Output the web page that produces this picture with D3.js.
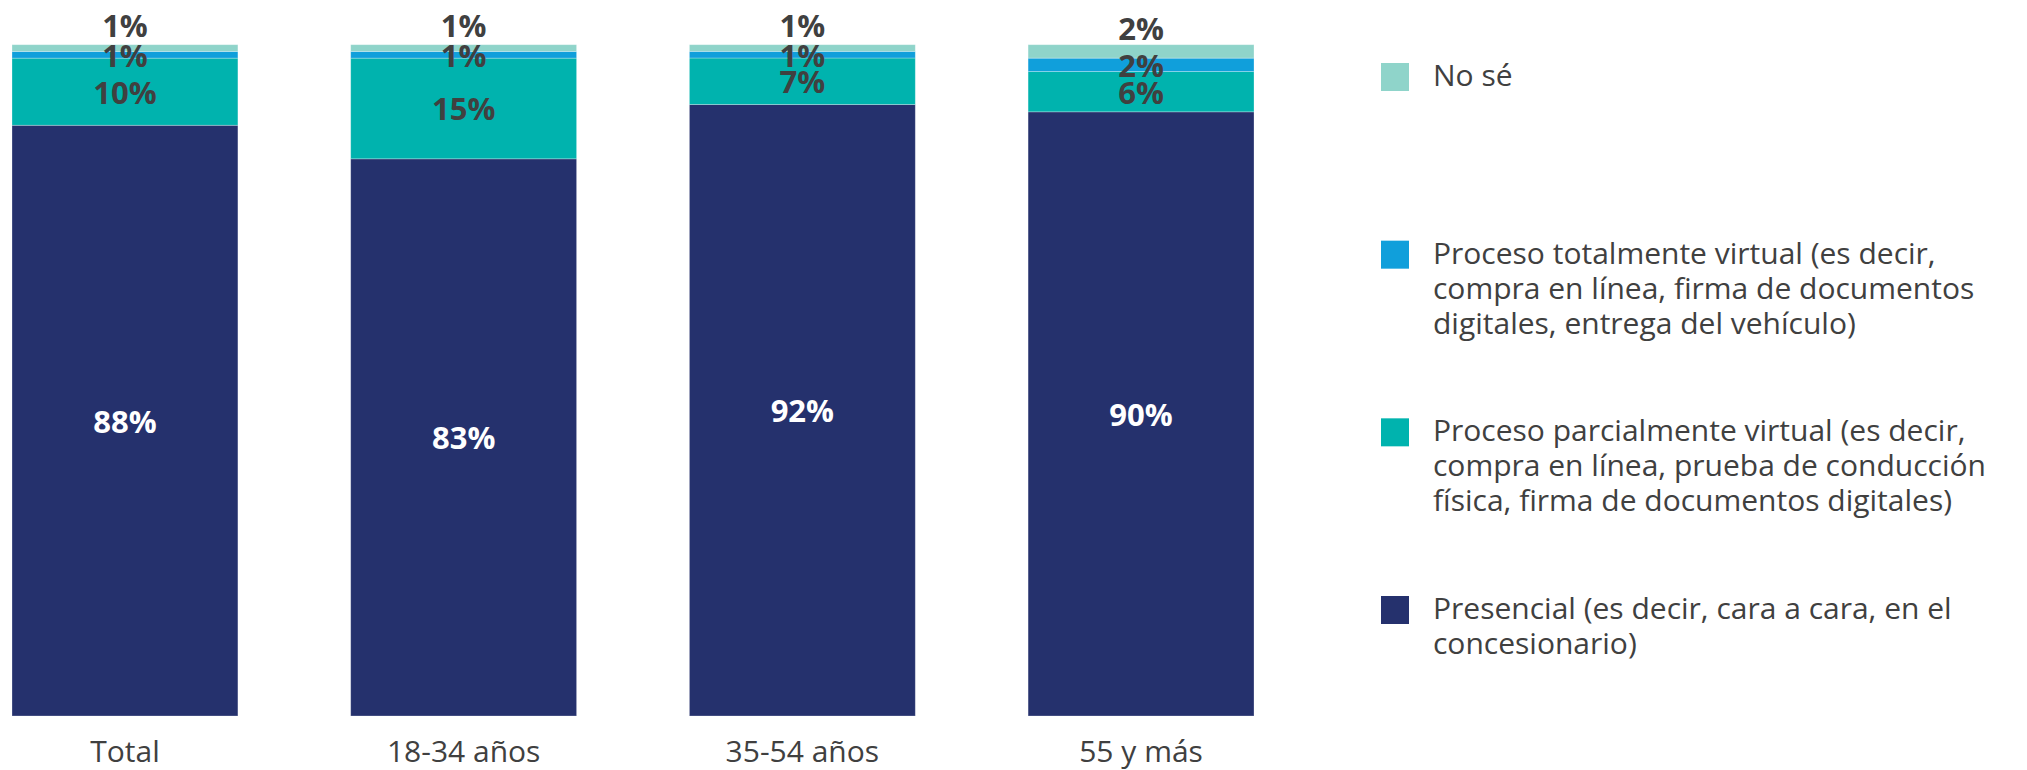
<!DOCTYPE html>
<html>
<head>
    <meta charset="utf-8">
    <script src="https://d3js.org/d3.v7.min.js"></script>
    <style>
        body { margin: 0; background: #fff; }
        text { font-family: "Open Sans", sans-serif; }
    </style>
</head>
<body>
    <div id="chart"></div>
    <script>
        const width = 2027
        const height = 770

        // categories (x axis)
        const groups = ["Total", "18-34 años", "35-54 años", "55 y más"]

        // series, stacked bottom to top
        const keys = ["presencial", "parcial", "total", "nose"]
        const presencial = [88, 83, 92, 90]
        const parcial = [10, 15, 7, 6]
        const totalVirtual = [1, 1, 1, 2]
        const noSe = [1, 1, 1, 2]

        // legend texts, top to bottom, one entry per line
        const legendKeys = ["nose", "total", "parcial", "presencial"]
        const legendLines = [
            ["No sé"],
            ["Proceso totalmente virtual (es decir,", "compra en línea, firma de documentos", "digitales, entrega del vehículo)"],
            ["Proceso parcialmente virtual (es decir,", "compra en línea, prueba de conducción", "física, firma de documentos digitales)"],
            ["Presencial (es decir, cara a cara, en el", "concesionario)"]
        ]

        const colors = {
            presencial: "#25316d",
            parcial: "#00b3ae",
            total: "#109fdb",
            nose: "#8fd4ca"
        }

        const rows = groups.map((g, i) => ({
            group: g,
            presencial: presencial[i],
            parcial: parcial[i],
            total: totalVirtual[i],
            nose: noSe[i]
        }))

        // each bar is drawn to 100% of its own sum
        const series = d3.stack().keys(keys).offset(d3.stackOffsetExpand)(rows)

        const xScale = d3.scaleBand()
            .domain(groups)
            .range([12, 1254])
            .paddingInner(0.333)
            .paddingOuter(0)

        const yScale = d3.scaleLinear()
            .domain([0, 1])
            .range([716, 44.7])

        const svg = d3.select("#chart").append("svg")
            .attr("width", width)
            .attr("height", height)

        const layers = svg.selectAll("g.layer")
            .data(series)
            .enter()
            .append("g")
            .attr("class", "layer")
            .attr("fill", d => colors[d.key])

        layers.selectAll("rect")
            .data(d => d)
            .enter()
            .append("rect")
            .attr("x", d => xScale(d.data.group))
            .attr("y", d => yScale(d[1]))
            .attr("width", xScale.bandwidth())
            .attr("height", d => yScale(d[0]) - yScale(d[1]))
            .attr("stroke", "#ffffff")
            .attr("stroke-opacity", 0.35)
            .attr("stroke-width", 0.8)

        // value labels, drawn on top of all bars
        const labelData = series.flatMap(s => s.map(p => ({ key: s.key, p: p })))

        svg.append("g")
            .attr("class", "labels")
            .selectAll("text")
            .data(labelData)
            .enter()
            .append("text")
            .attr("x", d => xScale(d.p.data.group) + xScale.bandwidth() / 2)
            .attr("y", d => {
                const mid = (yScale(d.p[0]) + yScale(d.p[1])) / 2
                return d.key == "nose" ? mid - 23 : mid
            })
            .attr("text-anchor", "middle")
            .attr("dominant-baseline", "central")
            .attr("font-size", "31px")
            .attr("font-weight", "bold")
            .attr("fill", d => d.key == "presencial" ? "#ffffff" : "#404040")
            .text(d => d.p.data[d.key] + "%")

        // x axis, labels only
        const xAxis = d3.axisBottom(xScale).tickSize(0).tickPadding(0)
        const axisG = svg.append("g")
            .attr("transform", "translate(0,740)")
            .call(xAxis)
        axisG.select(".domain").remove()
        axisG.selectAll("text")
            .attr("font-family", "Open Sans, sans-serif")
            .attr("font-size", "30px")
            .attr("fill", "#404040")
            .attr("dy", "0.72em")

        // legend
        const legendY = d3.scalePoint()
            .domain(legendKeys)
            .range([63, 596])

        const legend = svg.selectAll("g.legend")
            .data(legendKeys)
            .enter()
            .append("g")
            .attr("class", "legend")
            .attr("transform", d => "translate(1381," + legendY(d) + ")")

        legend.append("rect")
            .attr("width", 28)
            .attr("height", 28)
            .attr("fill", d => colors[d])

        legend.append("text")
            .attr("x", 52)
            .attr("y", 23)
            .attr("font-size", "30px")
            .attr("fill", "#404040")
            .selectAll("tspan")
            .data((d, i) => legendLines[i])
            .enter()
            .append("tspan")
            .attr("x", 52)
            .attr("dy", (d, i) => i == 0 ? 0 : 35)
            .text(d => d)
    </script>
</body>
</html>
